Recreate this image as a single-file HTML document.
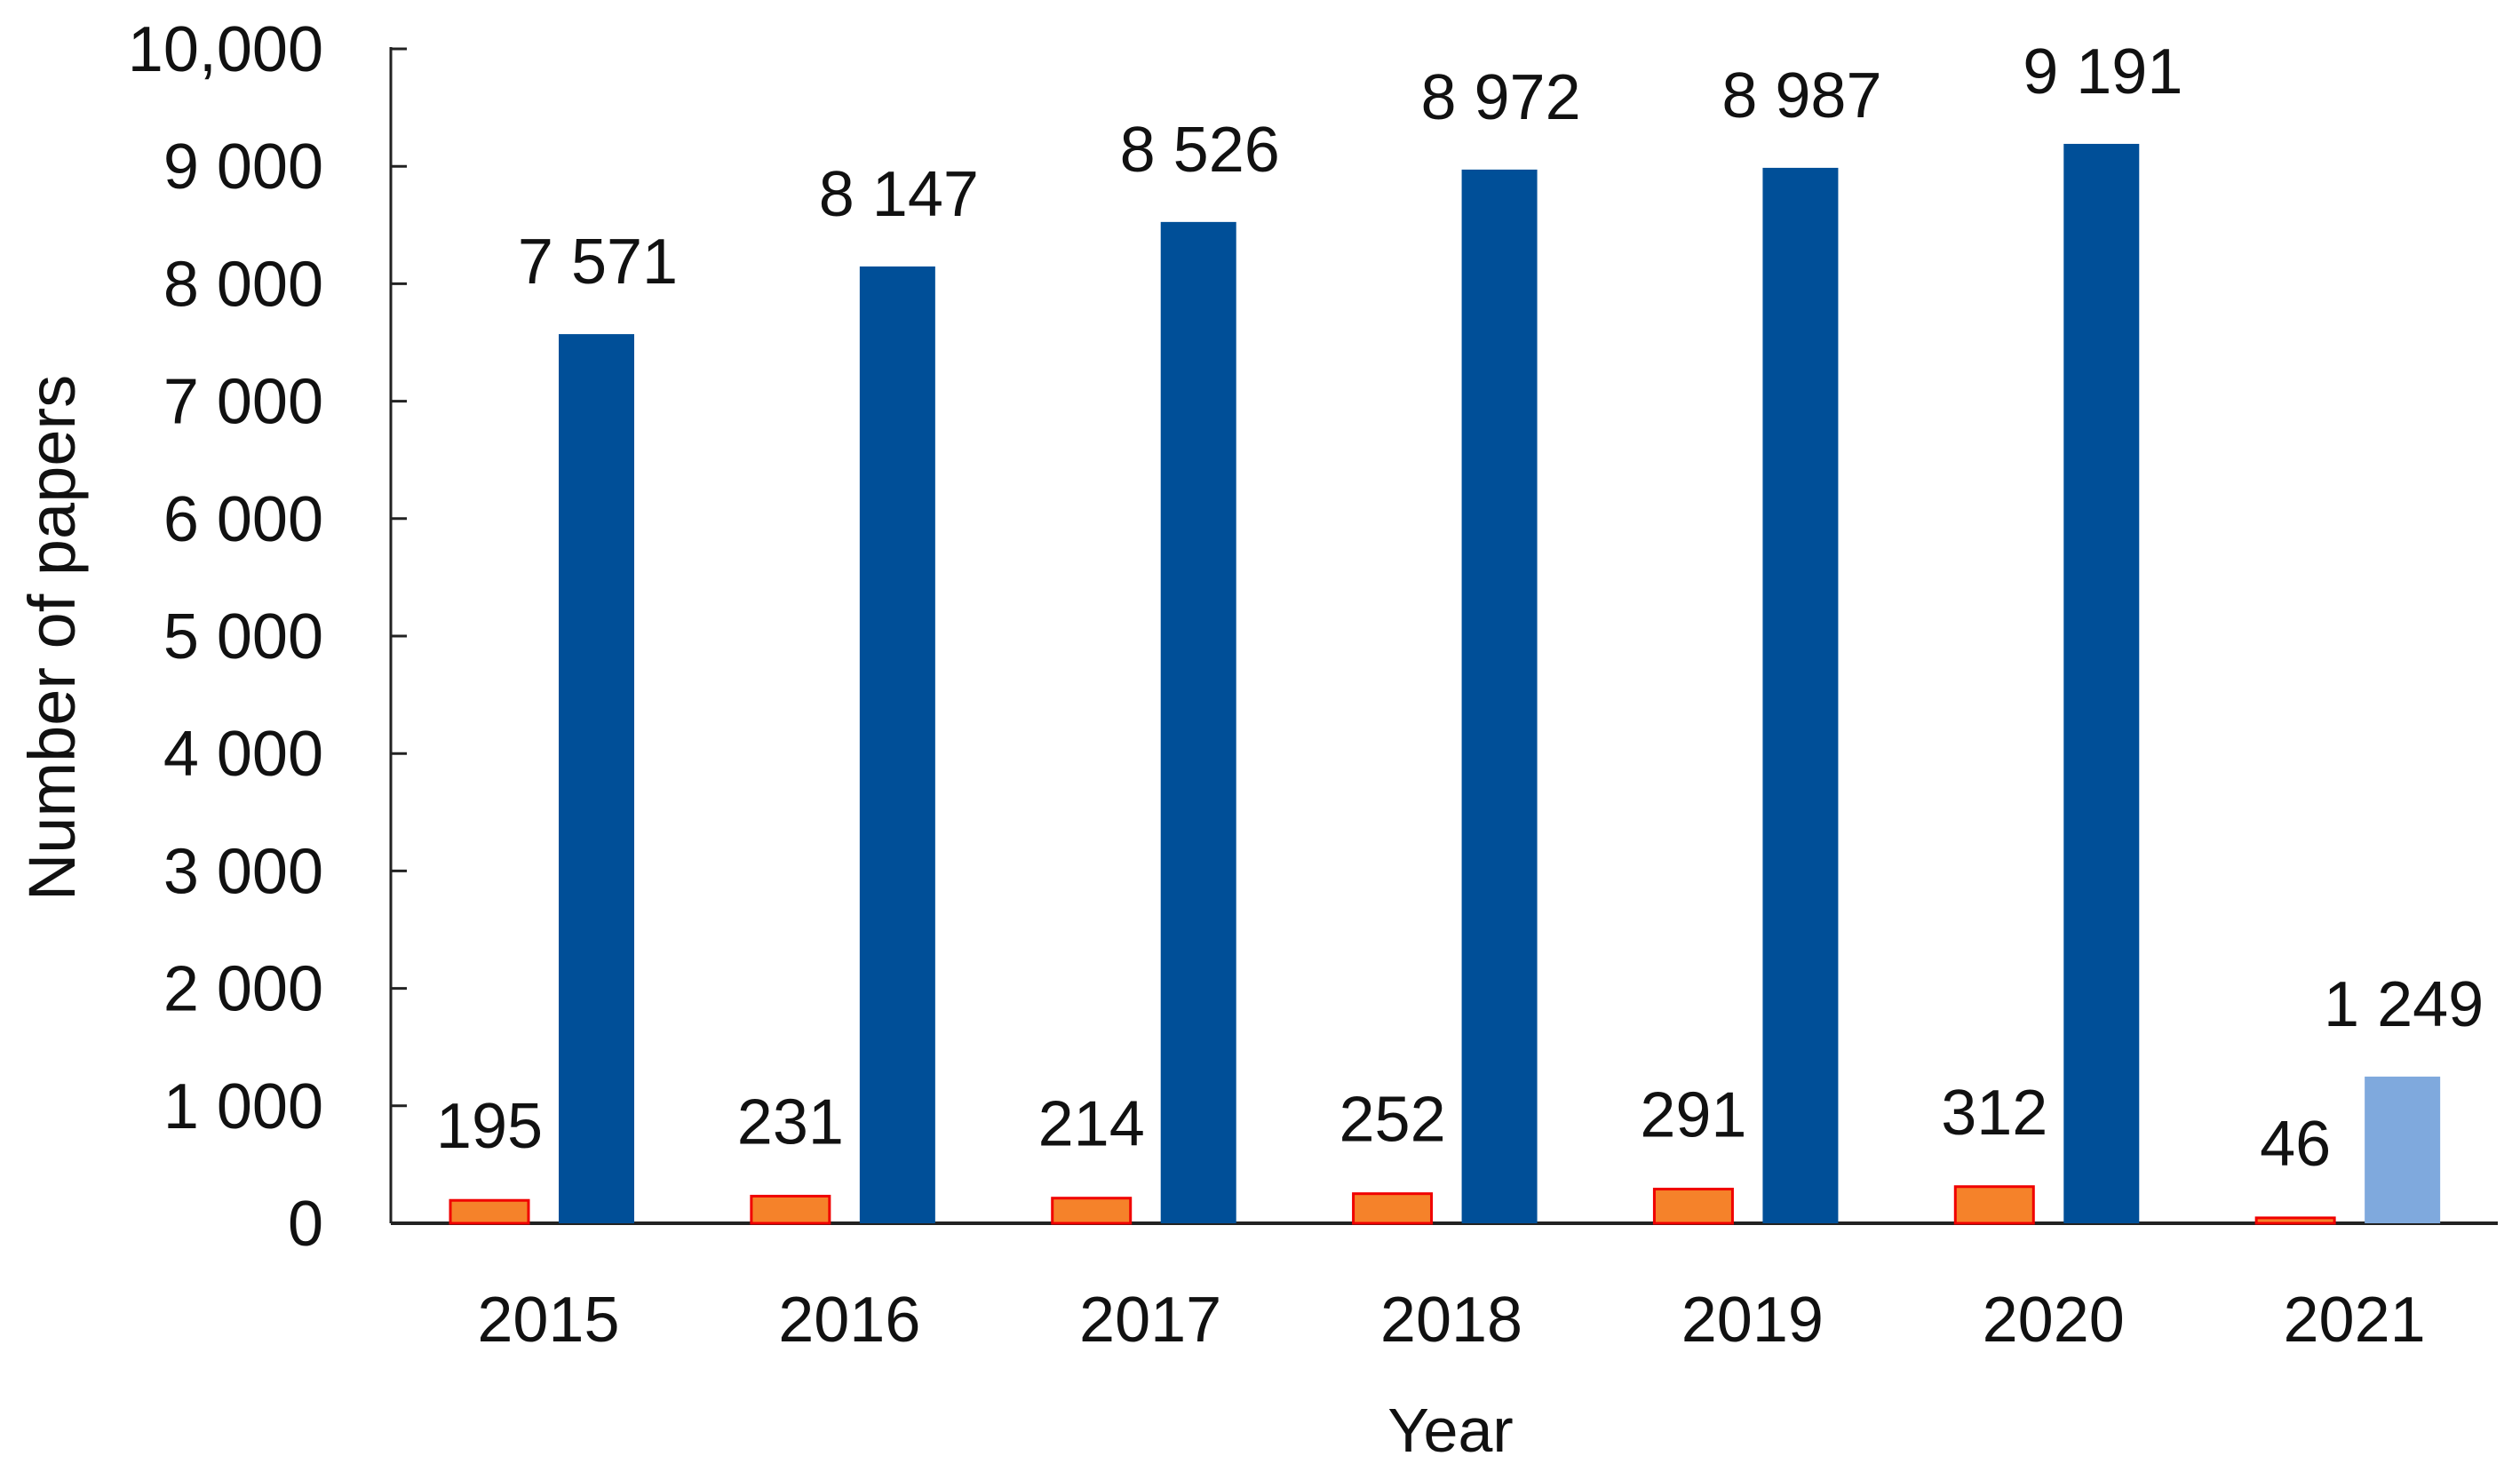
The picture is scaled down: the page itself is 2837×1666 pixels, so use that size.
<!DOCTYPE html>
<html><head><meta charset="utf-8">
<style>
html,body{margin:0;padding:0;background:#fff;}
svg{display:block;}
text{font-family:"Liberation Sans",sans-serif;fill:#111;}
</style></head>
<body>
<svg id="chart" width="2837" height="1666" viewBox="0 0 2837 1666" xmlns="http://www.w3.org/2000/svg">
<g id="axes"></g>
<g id="bars"></g>
<g id="labels"></g>
<text x="0" y="0" font-size="74" text-anchor="middle" transform="translate(84,718) rotate(-90)">Number of papers</text>
<text x="1633" y="1634" font-size="70" text-anchor="middle">Year</text>
</svg>
<script>
const categories = ["2015","2016","2017","2018","2019","2020","2021"];
const seriesA = [195,231,214,252,291,312,46];
const seriesB = [7571,8147,8526,8972,8987,9191,1249];
const labelsA = ["195","231","214","252","291","312","46"];
const labelsB = ["7 571","8 147","8 526","8 972","8 987","9 191","1 249"];
const tickValues = [0,1000,2000,3000,4000,5000,6000,7000,8000,9000,10000];
const tickLabels = ["0","1 000","2 000","3 000","4 000","5 000","6 000","7 000","8 000","9 000","10,000"];

const NS="http://www.w3.org/2000/svg";
const X0=440, X1=2812, Y0=1377, YTOP=55, YMAX=10000;
const band=(X1-X0)/categories.length;
function y(v){return Y0-(v/YMAX)*(Y0-YTOP);}
function xBand(i){return X0+i*band;}
function mk(tag,attrs,parent){const e=document.createElementNS(NS,tag);for(const k in attrs)e.setAttribute(k,attrs[k]);parent.appendChild(e);return e;}

const axes=document.getElementById('axes');
const bars=document.getElementById('bars');
const labels=document.getElementById('labels');

let l=mk('line',{x1:X0,y1:YTOP-2,x2:X0,y2:Y0,stroke:'#222','stroke-width':3},axes);


tickValues.forEach((v,i)=>{
  const t=mk('line',{x1:X0,y1:y(v),x2:X0+18,y2:y(v),stroke:'#222','stroke-width':3},axes);
  
  
  const tx=mk('text',{x:364,y:y(v)+25,'font-size':72,'text-anchor':'end'},axes);
  tx.textContent=tickLabels[i];
  
  
});

const BW=88;
categories.forEach((c,i)=>{
  const bx=xBand(i);
  const ax=bx+67, bxx=bx+189;
  const ra=mk('rect',{x:ax,y:y(seriesA[i]),width:BW,height:Y0-y(seriesA[i]),fill:'#F5822A',stroke:'#F00000','stroke-width':3},bars);
  
  
  const rb=mk('rect',{x:bxx,y:y(seriesB[i]),width:BW-3,height:Y0-y(seriesB[i]),fill:(i===categories.length-1?'#7FA9DD':'#004F98')},bars);
  
  
  const la=mk('text',{x:ax+BW/2,y:y(seriesA[i])-84+25,'font-size':72,'text-anchor':'middle'},labels);
  la.textContent=labelsA[i];
  
  
  const lb=mk('text',{x:bxx+BW/2,y:y(seriesB[i])-82+25,'font-size':72,'text-anchor':'middle'},labels);
  lb.textContent=labelsB[i];
  
  
  const xl=mk('text',{x:bx+band/2+8,y:1520-10,'font-size':72,'text-anchor':'middle'},axes);
  xl.textContent=c;
  
  
});
let xa=mk('line',{x1:X0,y1:Y0,x2:X1,y2:Y0,stroke:'#222','stroke-width':4},axes);


</script>
</body></html>
